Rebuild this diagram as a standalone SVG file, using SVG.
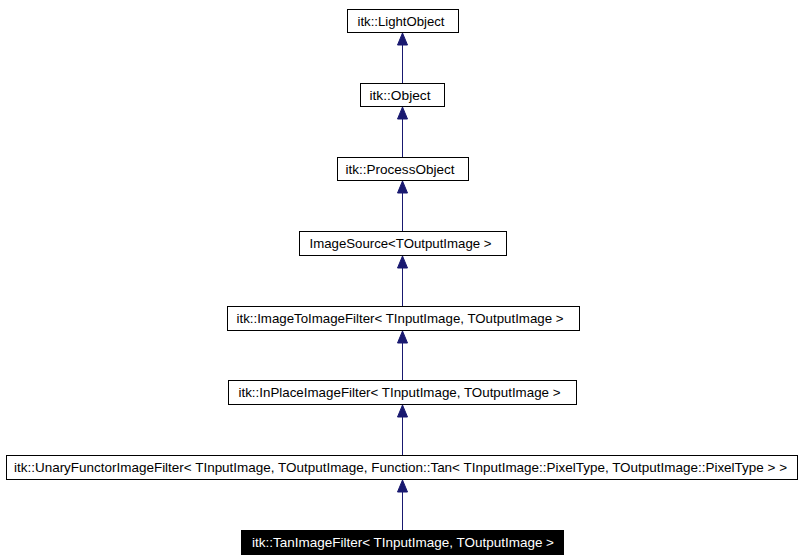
<svg xmlns="http://www.w3.org/2000/svg" width="803" height="560" viewBox="0 0 803 560">
<style>
.n rect{fill:#fff;stroke:#000;stroke-width:1}
.n text{font-family:"Liberation Sans",Arial,sans-serif;font-size:13px;fill:#000}
#n8 rect{fill:#000}
#n8 text{fill:#fff}
.e line{stroke:#191970;stroke-width:1}
.e path{fill:#191970;stroke:#191970}
</style>
<rect width="803" height="560" fill="#fff"/>
<g id="edges" class="e">
<line x1="402.5" y1="44" x2="402.5" y2="83"/><path d="M402.5,33 L397.5,45 L407.5,45 Z"/>
<line x1="402.5" y1="118" x2="402.5" y2="157"/><path d="M402.5,107 L397.5,119 L407.5,119 Z"/>
<line x1="402.5" y1="192" x2="402.5" y2="231"/><path d="M402.5,181 L397.5,193 L407.5,193 Z"/>
<line x1="402.5" y1="267" x2="402.5" y2="306"/><path d="M402.5,256 L397.5,268 L407.5,268 Z"/>
<line x1="402.5" y1="342" x2="402.5" y2="380"/><path d="M402.5,331 L397.5,343 L407.5,343 Z"/>
<line x1="402.5" y1="416" x2="402.5" y2="455"/><path d="M402.5,405 L397.5,417 L407.5,417 Z"/>
<line x1="402.5" y1="491" x2="402.5" y2="530"/><path d="M402.5,480 L397.5,492 L407.5,492 Z"/>
</g>
<g id="n1" class="n"><rect x="347.5" y="9.5" width="111" height="23"/><text x="357.5" y="25.5" textLength="87" lengthAdjust="spacingAndGlyphs">itk::LightObject</text></g>
<g id="n2" class="n"><rect x="360.5" y="83.5" width="84" height="23"/><text x="369.5" y="99.5" textLength="61" lengthAdjust="spacingAndGlyphs">itk::Object</text></g>
<g id="n3" class="n"><rect x="337.5" y="157.5" width="131" height="23"/><text x="345.5" y="173.5" textLength="109" lengthAdjust="spacingAndGlyphs">itk::ProcessObject</text></g>
<g id="n4" class="n"><rect x="299.5" y="231.5" width="207" height="24"/><text x="309.5" y="248" textLength="182" lengthAdjust="spacingAndGlyphs">ImageSource&lt;TOutputImage &gt;</text></g>
<g id="n5" class="n"><rect x="227.5" y="306.5" width="352" height="24"/><text x="236.5" y="323" textLength="327" lengthAdjust="spacingAndGlyphs">itk::ImageToImageFilter&lt; TInputImage, TOutputImage &gt;</text></g>
<g id="n6" class="n"><rect x="228.5" y="380.5" width="348" height="24"/><text x="238.5" y="397" textLength="322" lengthAdjust="spacingAndGlyphs">itk::InPlaceImageFilter&lt; TInputImage, TOutputImage &gt;</text></g>
<g id="n7" class="n"><rect x="6.5" y="455.5" width="791" height="24"/><text x="14" y="472" textLength="773" lengthAdjust="spacingAndGlyphs">itk::UnaryFunctorImageFilter&lt; TInputImage, TOutputImage, Function::Tan&lt; TInputImage::PixelType, TOutputImage::PixelType &gt; &gt;</text></g>
<g id="n8" class="n"><rect x="241.5" y="530.5" width="322" height="24"/><text x="252" y="547" textLength="302" lengthAdjust="spacingAndGlyphs">itk::TanImageFilter&lt; TInputImage, TOutputImage &gt;</text></g>
</svg>
